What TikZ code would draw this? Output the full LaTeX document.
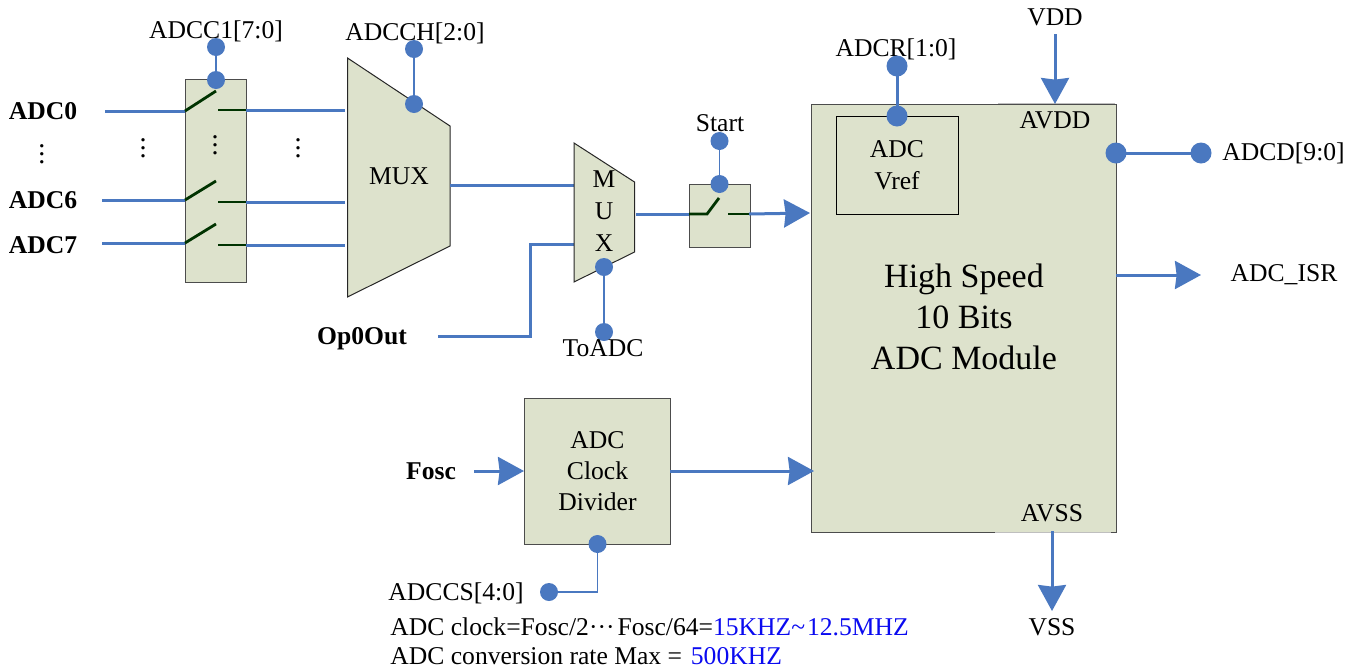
\documentclass[tikz,border=0pt]{standalone}
\usepackage{fontspec}
\setmainfont{Liberation Serif}
\usepackage{tikz}
\usetikzlibrary{arrows.meta,positioning}
\definecolor{blockfill}{HTML}{DDE2CC}
\definecolor{wireblue}{HTML}{4A78C0}
\definecolor{leverdark}{HTML}{003300}
\definecolor{ratedblue}{HTML}{0A0AF0}
\tikzset{
  >={Stealth[length=13pt,width=14pt,inset=.8pt]},
  block/.style={
    draw=black!70, fill=blockfill, rectangle, align=center, inner sep=0pt,
    line width=.5pt
  },
  lbl/.style={
    inner sep=0pt, font=\fontsize{12.8}{16}\selectfont
  },
  blbl/.style={
    inner sep=0pt, font=\fontsize{12.8}{16}\selectfont\bfseries
  },
  dot/.style={
    circle, fill=wireblue, inner sep=0pt, minimum size=9pt
  },
  bigdot/.style={
    circle, fill=wireblue, inner sep=0pt, minimum size=10.5pt
  },
  wire/.style={draw=wireblue, line width=1.5pt},
  thinwire/.style={draw=wireblue, line width=.8pt},
  lever/.style={draw=leverdark, line width=1.4pt},
  mux/.style={draw=black!85, fill=blockfill, line width=.5pt},
  vdotsmark/.style={inner sep=0pt, font=\fontsize{14}{14}\selectfont\boldmath},
}
\begin{document}
\begin{tikzpicture}[x=.5pt,y=-.5pt]
  \useasboundingbox (0,0) rectangle (1360,670);
  % switch bank
  \node[block, minimum width=30.5pt, minimum height=101.5pt] (bank) at (216,181) {};
  \coordinate (in0) at (105,111);
  \coordinate (in6) at (102,200);
  \coordinate (in7) at (102,243);
  \coordinate (sw0a) at (185,111);
  \coordinate (sw6a) at (185,200);
  \coordinate (sw7a) at (185,243);
  \coordinate (sw0b) at (216,91);
  \coordinate (sw6b) at (216,181);
  \coordinate (sw7b) at (216,224);
  \coordinate (st0a) at (218,110);
  \coordinate (st6a) at (218,202);
  \coordinate (st7a) at (218,245);
  \coordinate (st0b) at (246,110);
  \coordinate (st6b) at (246,202);
  \coordinate (st7b) at (246,245);
  \coordinate (mi0) at (345,110);
  \coordinate (mi6) at (345,202);
  \coordinate (mi7) at (345,245);
  \draw[wire] (in0) -- (sw0a);
  \draw[wire] (in6) -- (sw6a);
  \draw[wire] (in7) -- (sw7a);
  \draw[lever] (sw0a) -- (sw0b);
  \draw[lever] (sw6a) -- (sw6b);
  \draw[lever] (sw7a) -- (sw7b);
  \draw[lever] (st0a) -- (st0b);
  \draw[lever] (st6a) -- (st6b);
  \draw[lever] (st7a) -- (st7b);
  \draw[wire] (st0b) -- (mi0);
  \draw[wire] (st6b) -- (mi6);
  \draw[wire] (st7b) -- (mi7);
  \node[blbl] (adc0) at (43,111) {ADC0};
  \node[blbl] (adc6) at (43,200) {ADC6};
  \node[blbl] (adc7) at (43,245) {ADC7};
  \node[vdotsmark] (vd0) at (42,148) {$\vdots$};
  \node[vdotsmark] (vd1) at (143,142) {$\vdots$};
  \node[vdotsmark] (vd2) at (215,139) {$\vdots$};
  \node[vdotsmark] (vd3) at (298,142) {$\vdots$};
  \node[lbl] (cfg) at (216,31.5) {ADCC1[7:0]};
  \node[dot] (cfgtop) at (216,47) {};
  \node[dot] (cfgbot) at (216,80) {};
  \draw[thinwire] (cfgtop.center) -- (cfgbot.center);
  % first mux
  \draw[mux] (347.5,58) -- (450,126) -- (450,246) -- (347.5,297) -- cycle;
  \node[lbl] (muxa) at (399,176) {MUX};
  \node[lbl] (chl) at (415,33) {ADCCH[2:0]};
  \node[dot] (chtop) at (414,49) {};
  \node[dot] (chbot) at (414,104) {};
  \draw[thinwire] (chtop.center) -- (chbot.center);
  % second mux
  \coordinate (moa) at (450,185);
  \coordinate (mob) at (574,185);
  \coordinate (opa) at (438,336);
  \coordinate (opb) at (530,336);
  \coordinate (opc) at (530,244);
  \coordinate (opd) at (574,244);
  \draw[wire] (moa) -- (mob);
  \draw[wire] (opa) -- (opb) -- (opc) -- (opd);
  \draw[mux] (574,143) -- (634.5,182) -- (634.5,252) -- (574,282) -- cycle;
  \node[lbl, align=center, font=\fontsize{12.8}{16}\selectfont] (muxb) at (604,211) {M\\U\\X};
  \node[blbl] (op) at (362,339) {Op0Out};
  \node[dot] (tobot) at (604,332) {};
  \node[dot] (totop) at (604,267) {};
  \draw[thinwire] (totop.center) -- (tobot.center);
  \node[lbl] (tol) at (603,348) {ToADC};
  % start switch
  \node[block, minimum width=30.5pt, minimum height=31.5pt] (start) at (719.5,215.5) {};
  \coordinate (swa) at (636,214);
  \coordinate (swb) at (689,214);
  \coordinate (swc) at (707,214);
  \coordinate (swd) at (719,198);
  \coordinate (swe) at (728,214);
  \coordinate (swf) at (749,214);
  \draw[wire] (swa) -- (swb);
  \draw[lever] (swb) -- (swc) -- (swd);
  \draw[lever] (swe) -- (swf);
  \node[lbl] (stl) at (720,123) {Start};
  \node[dot] (sttop) at (719.5,141) {};
  \node[dot] (stbot) at (719.5,184) {};
  \draw[thinwire] (sttop.center) -- (stbot.center);
  % main module
  \node[block, minimum width=152.5pt, minimum height=214pt] (adc) at (963.5,318) {};
  \draw[draw=black!25, line width=.7pt] (adc.north east) ++(-2,0) -- ++(-117,0);
  \draw[draw=black!25, line width=.7pt] (adc.south east) ++(-6,0) -- ++(-116,0);
  \draw[wire, ->] (swf) -- (810,213) coordinate (adcin);
  \node[block, draw=black, fill=none, font=\fontsize{12.8}{16}\selectfont, minimum width=61pt, minimum height=49pt] (vref) at (897,165) {ADC\\Vref};
  \node[lbl] (rl) at (896,49) {ADCR[1:0]};
  \node[bigdot] (rtop) at (897,66) {};
  \node[bigdot] (rbot) at (897,116) {};
  \draw[wire] (rtop.center) -- (rbot.center);
  \node[align=center, inner sep=0pt, font=\fontsize{17}{20.5}\selectfont] (adctxt) at (964,317) {High Speed\\10 Bits\\ADC Module};
  \node[lbl] (avdd) at (1055,120) {AVDD};
  \node[lbl] (avss) at (1052,513) {AVSS};
  \node[lbl] (vdd) at (1055,17) {VDD};
  \node[lbl] (vss) at (1052,627) {VSS};
  \coordinate (vdda) at (1055,34);
  \coordinate (vddb) at (1055,104);
  \coordinate (vssa) at (1052,531);
  \coordinate (vssb) at (1052,611);
  \draw[wire, ->] (vdda) -- (vddb);
  \draw[wire, ->] (vssa) -- (vssb);
  \node[bigdot] (dl) at (1116,153) {};
  \node[bigdot] (dr) at (1201,153) {};
  \draw[wire] (dl.center) -- (dr.center);
  \node[lbl, right=10.5pt of dr.center, anchor=west] (dlbl) {ADCD[9:0]};
  \coordinate (isra) at (1116,275);
  \coordinate (isrb) at (1201,275);
  \draw[wire, ->] (isra) -- (isrb);
  \node[lbl] (isr) at (1284,275) {ADC\_ISR};
  % clock divider
  \node[block, minimum width=73pt, minimum height=73pt, font=\fontsize{12.8}{15.6}\selectfont] (clk) at (597.5,471) {ADC\\Clock\\Divider};
  \node[blbl] (fosc) at (431,471) {Fosc};
  \coordinate (fa) at (474,471);
  \coordinate (fb) at (524,471);
  \coordinate (ca) at (670,471);
  \coordinate (cb) at (814,471);
  \draw[wire, ->] (fa) -- (fb);
  \draw[wire, ->] (ca) -- (cb);
  \node[dot] (cstop) at (597.5,544) {};
  \node[dot] (csbot) at (549,592) {};
  \draw[thinwire] (cstop.center) |- (csbot.center);
  \node[lbl, anchor=east] (csl) at (524,593) {ADCCS[4:0]};
  \node[lbl, anchor=west] (rate1) at (390,627) {ADC clock=Fosc/2\textperiodcentered\textperiodcentered\textperiodcentered\kern1.5pt Fosc/64=\textcolor{ratedblue}{15KHZ\textasciitilde\kern1pt 12.5MHZ}};
  \node[lbl, anchor=west] (rate2) at (390,656) {ADC conversion rate Max = \kern1.2pt\textcolor{ratedblue}{500KHZ}};
\end{tikzpicture}
\end{document}
